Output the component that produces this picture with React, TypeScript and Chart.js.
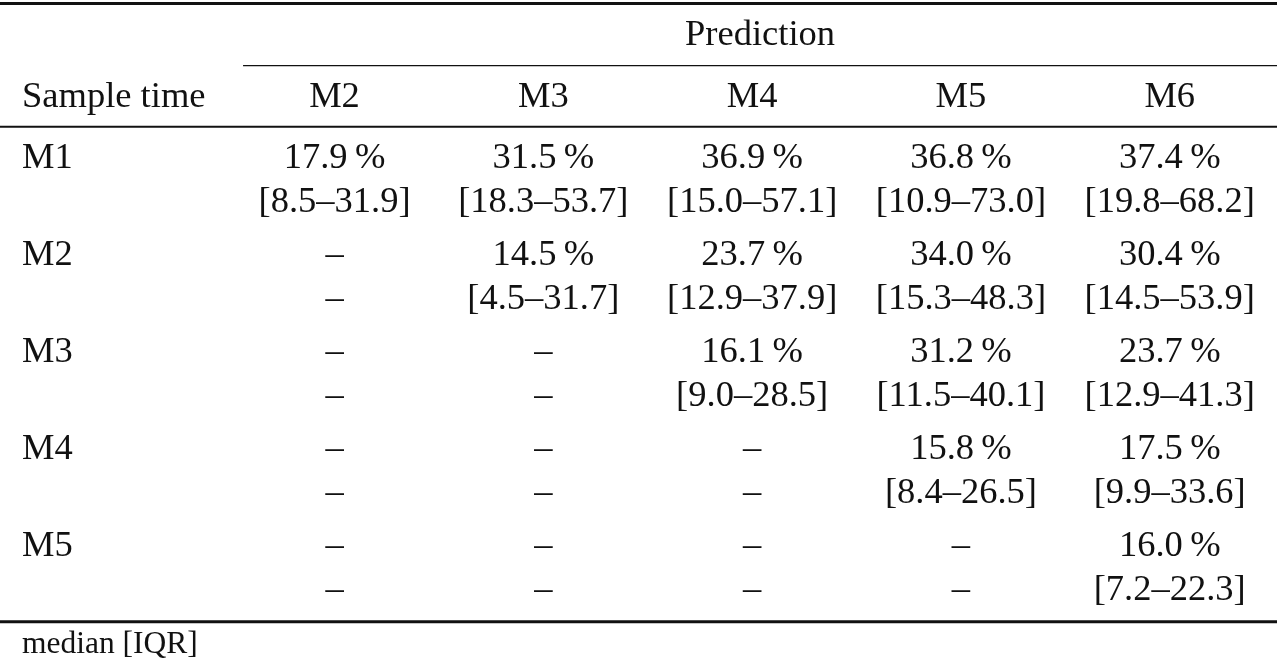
import React, { useEffect, useRef } from "react";
import { Chart, registerables } from "chart.js";

Chart.register(...registerables);

// ---- data ----
const predictionLabel = "Prediction";
const sampleTimeLabel = "Sample time";
const footnote = "median [IQR]";
const columnLabels = ["M2", "M3", "M4", "M5", "M6"];
const rowLabels = ["M1", "M2", "M3", "M4", "M5"];

const medianM1 = [17.9, 31.5, 36.9, 36.8, 37.4];
const q1M1 = [8.5, 18.3, 15.0, 10.9, 19.8];
const q3M1 = [31.9, 53.7, 57.1, 73.0, 68.2];

const medianM2 = [null, 14.5, 23.7, 34.0, 30.4];
const q1M2 = [null, 4.5, 12.9, 15.3, 14.5];
const q3M2 = [null, 31.7, 37.9, 48.3, 53.9];

const medianM3 = [null, null, 16.1, 31.2, 23.7];
const q1M3 = [null, null, 9.0, 11.5, 12.9];
const q3M3 = [null, null, 28.5, 40.1, 41.3];

const medianM4 = [null, null, null, 15.8, 17.5];
const q1M4 = [null, null, null, 8.4, 9.9];
const q3M4 = [null, null, null, 26.5, 33.6];

const medianM5 = [null, null, null, null, 16.0];
const q1M5 = [null, null, null, null, 7.2];
const q3M5 = [null, null, null, null, 22.3];

const medians = [medianM1, medianM2, medianM3, medianM4, medianM5];
const q1s = [q1M1, q1M2, q1M3, q1M4, q1M5];
const q3s = [q3M1, q3M2, q3M3, q3M4, q3M5];

// ---- layout (scale units: x = column index, y = row index) ----
const LAYOUT = {
  width: 1280,
  height: 664,
  xMin: -0.602,
  xMax: 5.528,
  yMin: -1.735,
  yMax: 5.11,
  lineGap: 0.446,
  predictionY: -1.266,
  headerY: -0.637,
  footY: 5.0,
  topRuleY: -1.699,
  cmidRuleY: -1.058,
  midRuleY: -0.429,
  bottomRuleY: 4.674,
  cmidStartX: 0.562,
  leftTextPx: 22,
  ruleTrimPx: 3,
  font: '36.5px "Liberation Serif"',
  footFont: '31.5px "Liberation Serif"',
  color: "#111111",
};

const EMPTY = "\u2013";
const fmtMedian = (v: number | null) => (v == null ? EMPTY : `${v.toFixed(1)}\u2009%`);
const fmtIQR = (a: number | null, b: number | null) =>
  a == null || b == null ? EMPTY : `[${a.toFixed(1)}\u2013${b.toFixed(1)}]`;

const tablePlugin = {
  id: "tableText",
  afterDatasetsDraw(chart: any) {
    const ctx = chart.ctx as CanvasRenderingContext2D;
    const xs = chart.scales.x;
    const ys = chart.scales.y;
    const area = chart.chartArea;
    ctx.save();
    ctx.fillStyle = LAYOUT.color;
    ctx.strokeStyle = LAYOUT.color;
    ctx.font = LAYOUT.font;
    ctx.textBaseline = "alphabetic";

    const left = area.left;
    const right = area.right - LAYOUT.ruleTrimPx;
    const rule = (yv: number, x0: number, w: number) => {
      const y = ys.getPixelForValue(yv);
      ctx.lineWidth = w;
      ctx.beginPath();
      ctx.moveTo(x0, y);
      ctx.lineTo(right, y);
      ctx.stroke();
    };
    const cmidStart = xs.getPixelForValue(LAYOUT.cmidStartX);
    rule(LAYOUT.topRuleY, left, 3);
    rule(LAYOUT.cmidRuleY, cmidStart, 1.4);
    rule(LAYOUT.midRuleY, left, 2);
    rule(LAYOUT.bottomRuleY, left, 3);

    // spanning header
    ctx.textAlign = "center";
    ctx.fillText(predictionLabel, (cmidStart + right) / 2, ys.getPixelForValue(LAYOUT.predictionY));

    // column headers
    columnLabels.forEach((lab, i) => {
      ctx.fillText(lab, xs.getPixelForValue(i + 1), ys.getPixelForValue(LAYOUT.headerY));
    });

    // cells from dataset elements
    chart.data.datasets.forEach((ds: any, di: number) => {
      const meta = chart.getDatasetMeta(di);
      meta.data.forEach((el: any, pi: number) => {
        const raw = ds.data[pi];
        ctx.fillText(raw.text, el.x, el.y);
      });
    });

    // row labels and footnote
    ctx.textAlign = "left";
    const lx = left + LAYOUT.leftTextPx;
    ctx.fillText(sampleTimeLabel, lx, ys.getPixelForValue(LAYOUT.headerY));
    rowLabels.forEach((lab, r) => {
      ctx.fillText(lab, lx, ys.getPixelForValue(r));
    });
    ctx.font = LAYOUT.footFont;
    ctx.fillText(footnote, lx, ys.getPixelForValue(LAYOUT.footY));
    ctx.restore();
  },
};

export default function App() {
  const ref = useRef<HTMLCanvasElement | null>(null);
  useEffect(() => {
    document.body.style.margin = "0";
    document.body.style.background = "#ffffff";
    const medianPoints: any[] = [];
    const iqrPoints: any[] = [];
    rowLabels.forEach((_, r) => {
      columnLabels.forEach((__, c) => {
        medianPoints.push({ x: c + 1, y: r, text: fmtMedian(medians[r][c]) });
        iqrPoints.push({ x: c + 1, y: r + LAYOUT.lineGap, text: fmtIQR(q1s[r][c], q3s[r][c]) });
      });
    });
    const chart = new Chart(ref.current as HTMLCanvasElement, {
      type: "scatter",
      data: {
        datasets: [
          { label: "median", data: medianPoints, pointRadius: 0, pointHoverRadius: 0 },
          { label: "IQR", data: iqrPoints, pointRadius: 0, pointHoverRadius: 0 },
        ],
      },
      options: {
        animation: false,
        responsive: false,
        devicePixelRatio: window.devicePixelRatio || 1,
        layout: { padding: 0, autoPadding: false },
        events: [],
        plugins: { legend: { display: false }, tooltip: { enabled: false }, title: { display: false } },
        scales: {
          x: { type: "linear", display: false, min: LAYOUT.xMin, max: LAYOUT.xMax },
          y: { type: "linear", display: false, reverse: true, min: LAYOUT.yMin, max: LAYOUT.yMax },
        },
      },
      plugins: [tablePlugin],
    } as any);
    return () => chart.destroy();
  }, []);
  return (
    <div style={{ width: LAYOUT.width, height: LAYOUT.height, background: "#fff" }}>
      <canvas ref={ref} width={LAYOUT.width} height={LAYOUT.height} style={{ display: "block" }} />
    </div>
  );
}
